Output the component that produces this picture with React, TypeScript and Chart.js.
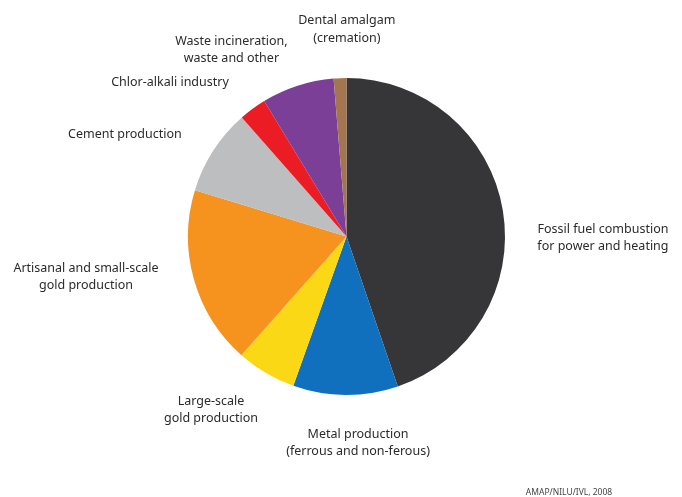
import React, { useEffect, useRef } from "react";
import { Chart, registerables } from "chart.js";

Chart.register(...registerables);

const categories: string[][] = [
  ["Fossil fuel combustion", "for power and heating"],
  ["Metal production", "(ferrous and non-ferous)"],
  ["Large-scale", "gold production"],
  ["Artisanal and small-scale", "gold production"],
  ["Cement production"],
  ["Chlor-alkali industry"],
  ["Waste incineration,", "waste and other"],
  ["Dental amalgam", "(cremation)"],
];

const shares: number[] = [44.8, 10.7, 6.1, 18.2, 8.8, 2.8, 7.4, 1.3];

const sliceColors: string[] = [
  "#363538",
  "#1170bd",
  "#fbd815",
  "#f6921e",
  "#bdbec0",
  "#ec1c24",
  "#7b3f98",
  "#a47650",
];

// label anchors: angle (deg, clockwise from 12 o'clock) and distance in pie radii
const labelAngles: number[] = [90.3, 176.8, 218.0, 261.2, 294.8, 311.2, 328.3, 0.1];
const labelDistances: number[] = [1.618, 1.305, 1.389, 1.663, 1.54, 1.48, 1.382, 1.306];

const sourceNote = "AMAP/NILU/IVL, 2008";

const FONT = "'Noto Sans', 'Open Sans', sans-serif";

const labelPlugin = {
  id: "outsideLabels",
  afterDraw(chart: any) {
    const meta = chart.getDatasetMeta(0);
    const arc = meta.data[0];
    if (!arc) return;
    const cx = arc.x;
    const cy = arc.y;
    const r = arc.outerRadius;
    const ctx = chart.ctx as CanvasRenderingContext2D;
    ctx.save();
    ctx.fillStyle = "#2b2b2b";
    ctx.font = `12.5px ${FONT}`;
    ctx.textAlign = "center";
    ctx.textBaseline = "middle";
    const lh = 17.5;
    categories.forEach((lines, i) => {
      const a = (labelAngles[i] * Math.PI) / 180;
      const d = labelDistances[i] * r;
      const x = cx + Math.sin(a) * d;
      const y = cy - Math.cos(a) * d;
      const y0 = y - ((lines.length - 1) * lh) / 2;
      lines.forEach((t, j) => ctx.fillText(t, x, y0 + j * lh));
    });
    ctx.font = `8.5px ${FONT}`;
    ctx.fillStyle = "#444444";
    ctx.fillText(sourceNote, cx + r * 1.404, cy + r * 1.618);
    ctx.restore();
  },
};

export default function App() {
  const ref = useRef<HTMLCanvasElement | null>(null);
  useEffect(() => {
    if (!ref.current) return;
    const chart = new Chart(ref.current, {
      type: "pie",
      data: {
        labels: categories.map((c) => c.join(" ")),
        datasets: [
          {
            data: shares,
            backgroundColor: sliceColors,
            borderWidth: 0,
          },
        ],
      },
      options: {
        animation: false,
        responsive: false,
        devicePixelRatio: 1,
        layout: { padding: { left: 188, top: 78, right: 177, bottom: 102 } },
        plugins: {
          legend: { display: false },
          tooltip: { enabled: false },
        },
      },
      plugins: [labelPlugin],
    });
    return () => chart.destroy();
  }, []);
  return (
    <div style={{ position: "fixed", left: 0, top: 0, width: 682, height: 497, background: "#ffffff" }}>
      <canvas ref={ref} width={682} height={497} style={{ display: "block" }} />
    </div>
  );
}
